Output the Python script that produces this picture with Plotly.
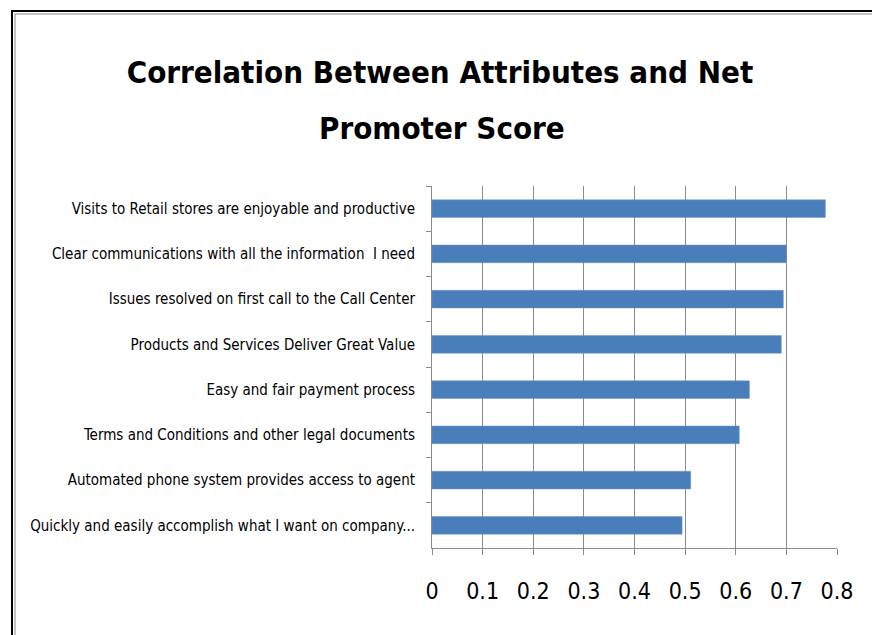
import plotly.graph_objects as go

categories = [
    "Visits to Retail stores are enjoyable and productive",
    "Clear communications with all the information  I need",
    "Issues resolved on first call to the Call Center",
    "Products and Services Deliver Great Value",
    "Easy and fair payment process",
    "Terms and Conditions and other legal documents",
    "Automated phone system provides access to agent",
    "Quickly and easily accomplish what I want on company...",
]
values = [0.777, 0.700, 0.694, 0.690, 0.627, 0.607, 0.511, 0.494]
x_ticks = [0, 0.1, 0.2, 0.3, 0.4, 0.5, 0.6, 0.7, 0.8]
x_tick_labels = ["0", "0.1", "0.2", "0.3", "0.4", "0.5", "0.6", "0.7", "0.8"]
title_line1 = "Correlation Between Attributes and Net"
title_line2 = "Promoter Score"

FONT = "DejaVu Sans Condensed, Liberation Sans Narrow, Arial Narrow, sans-serif"
W, H = 872, 635
L, R, T, B = 432, 35, 186, 87
pw, ph = W - L - R, H - T - B


def px2paper_x(px):
    return (px - L) / pw


def px2paper_y(py):
    return (H - B - py) / ph


fig = go.Figure(
    go.Bar(
        x=values,
        y=categories,
        orientation="h",
        width=0.39,
        marker=dict(color="#4A7EBB", line=dict(color="#6D95C9", width=0.5)),
    )
)

TITLE_FONT = dict(family=FONT, size=31, color="black", weight="bold")

fig.update_layout(
    width=W,
    height=H,
    margin=dict(l=L, r=R, t=T, b=B, autoexpand=False),
    paper_bgcolor="white",
    plot_bgcolor="white",
    showlegend=False,
    title=dict(
        text=title_line1,
        x=440 / W,
        xref="container",
        xanchor="center",
        y=1 - 72 / H,
        yref="container",
        yanchor="middle",
        font=TITLE_FONT,
    ),
    font=dict(family=FONT, color="black"),
)

fig.add_annotation(
    text=title_line2,
    xref="paper", yref="paper",
    x=px2paper_x(442), y=px2paper_y(128),
    xanchor="center", yanchor="middle",
    showarrow=False,
    font=TITLE_FONT,
)

fig.update_xaxes(
    range=[0, 0.8],
    tickmode="array",
    tickvals=x_ticks,
    ticktext=x_tick_labels,
    showgrid=True,
    gridcolor="#8C8C8C",
    gridwidth=1,
    showline=True,
    linecolor="#8C8C8C",
    linewidth=1,
    ticks="outside",
    ticklen=6,
    tickcolor="#8C8C8C",
    tickfont=dict(family=FONT, size=23, color="black"),
    ticklabelstandoff=16,
    zeroline=False,
    automargin=False,
    fixedrange=True,
)

fig.update_yaxes(
    autorange="reversed",
    showline=True,
    linecolor="#8C8C8C",
    linewidth=1,
    ticks="outside",
    ticklen=5,
    tickcolor="#8C8C8C",
    tickson="boundaries",
    showgrid=False,
    tickfont=dict(family=FONT, size=15, color="black"),
    ticklabelstandoff=13,
    automargin=False,
    fixedrange=True,
)

# outer frame of the picture
fig.add_shape(
    type="rect", xref="paper", yref="paper",
    x0=px2paper_x(12), x1=px2paper_x(900),
    y0=px2paper_y(700), y1=px2paper_y(11),
    line=dict(color="black", width=2), fillcolor="rgba(0,0,0,0)", layer="above",
)
fig.add_shape(
    type="rect", xref="paper", yref="paper",
    x0=px2paper_x(15), x1=px2paper_x(900),
    y0=px2paper_y(700), y1=px2paper_y(14),
    line=dict(color="#B0B0B0", width=1.5), fillcolor="rgba(0,0,0,0)", layer="above",
)

fig.write_html("out.html")
